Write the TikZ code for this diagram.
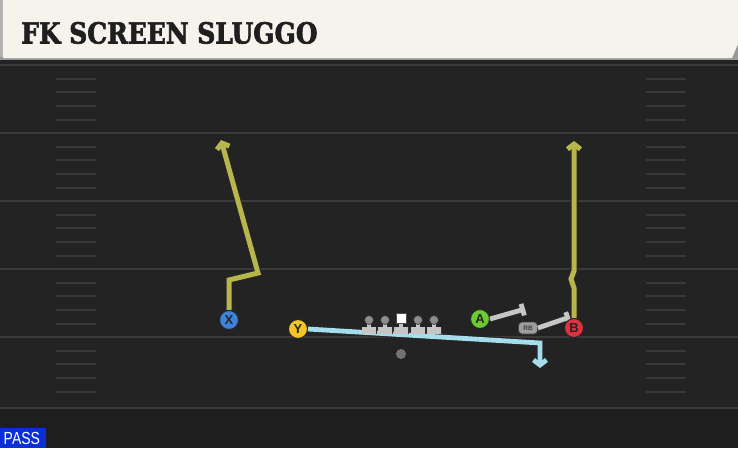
\documentclass[tikz,border=0pt]{standalone}
\usepackage{fontspec}
\usetikzlibrary{arrows.meta}
\newfontfamily\titlefont[FakeStretch=0.86,FakeBold=2.2]{DejaVu Serif}
\newfontfamily\labelfont{Liberation Sans}
\newfontfamily\passfont[FakeStretch=0.8]{Liberation Sans}
\definecolor{cream}{HTML}{F5F3EC}
\definecolor{fieldbg}{HTML}{232323}
\definecolor{fieldlow}{HTML}{1E1E1E}
\definecolor{yardline}{HTML}{3A3A3A}
\definecolor{hashc}{HTML}{383838}
\definecolor{olive}{HTML}{B6B64C}
\definecolor{skyroute}{HTML}{A6DDEC}
\definecolor{blockgray}{HTML}{C6C6C6}
\definecolor{pX}{HTML}{3E82DC}
\definecolor{pY}{HTML}{F3C623}
\definecolor{pA}{HTML}{6CCB30}
\definecolor{pB}{HTML}{E0323E}
\definecolor{passblue}{HTML}{0B2FD6}
\begin{document}
\begin{tikzpicture}[x=1pt,y=-1pt,
  player/.style={circle,draw=black!85,line width=1pt,inner sep=0pt,minimum size=19pt,
    font=\labelfont\bfseries\fontsize{13}{13}\selectfont,text=black!85},
  rbbox/.style={rounded corners=3.5pt,fill=blockgray!80!black,draw=black!75,line width=0.8pt,
    minimum width=19pt,minimum height=12pt,inner sep=0pt,
    font=\labelfont\bfseries\fontsize{6.5}{6.5}\selectfont,text=black!75},
  outline/.style={draw=black!85,line width=7.2pt},
  olroute/.style={draw=olive,line width=5pt},
  skyr/.style={draw=skyroute,line width=4.8pt},
  blk/.style={draw=blockgray,line width=4.8pt},
  yard/.style={draw=yardline,line width=2pt},
  hash/.style={draw=hashc,line width=1.5pt},
  tipup/.style={-{Straight Barb[length=5pt,width=13pt]}},
  tipbar/.style={-{Bar[width=12pt]}}
]
\useasboundingbox (0,0) rectangle (738,448);
% field
\fill[fieldbg] (0,59) rectangle (738,448);
\fill[fieldlow] (0,409) rectangle (738,448);
\foreach \yy in {65,133,201,269,337,408} \draw[yard] (0,\yy) -- (738,\yy);
\foreach \k in {0,...,4}{
  \foreach \o in {14,27,41,55}{
    \draw[hash] (56,{65+68*\k+\o}) -- (96,{65+68*\k+\o});
    \draw[hash] (646,{65+68*\k+\o}) -- (686,{65+68*\k+\o});
  }
}
% header
\fill[black!40] (0,0) rectangle (738,60);
\fill[black!30] (0,0) rectangle (3,57);
\fill[cream] (3,0) -- (738,0) -- (738,44) -- (732,58) -- (3,58) -- cycle;
\node[anchor=base west,inner sep=0pt,text=black!88,font=\titlefont\bfseries\fontsize{29}{30}\selectfont] (title) at (21,43.5) {FK SCREEN SLUGGO};
% players
\node[player,fill=pX] (X) at (229,320) {X};
\node[player,fill=pY] (Y) at (298,329) {Y};
\node[player,fill=pA] (A) at (480,319) {A};
\node[player,fill=pB] (B) at (574,328) {B};
\node[rbbox] (RB) at (528,328) {RB};
\node[circle,fill=black!55,inner sep=0pt,minimum size=10pt] (QB) at (401,354) {};
% route coordinates
\coordinate (x1) at (229,280);
\coordinate (x2) at (258,273);
\coordinate (x3) at (221,140);
\coordinate (b1) at (574,288);
\coordinate (b2) at (571,279);
\coordinate (b3) at (574,271);
\coordinate (b4) at (574,141);
\coordinate (y1) at (540,343);
\coordinate (y2) at (540,368);
\coordinate (a1) at (525,309);
\coordinate (r1) at (570,317);
% Y route (light blue)
\draw[outline,tipup,line join=miter] (Y.east) -- (y1) -- (y2);
\draw[skyr,tipup,line join=miter] (Y.east) -- (y1) -- (y2);
% linemen
\foreach \lx/\nm in {369/lt,385/lg,418/rg,434/rt}{
  \fill[black!80] (\lx-7.5,326.5) rectangle (\lx+7.5,334);
  \fill[blockgray] (\lx-7,327) rectangle (\lx+7,333.5);
  \fill[blockgray] (\lx-2,320) rectangle (\lx+2,329);
  \node[circle,fill=black!45,draw=black!80,line width=0.6pt,inner sep=0pt,minimum size=9pt] (\nm) at (\lx,320) {};
}
\fill[black!80] (401-7.5,326.5) rectangle (401+7.5,334);
\fill[blockgray] (401-7,327) rectangle (401+7,333.5);
\fill[blockgray] (399,320) rectangle (403,329);
\node[rectangle,fill=white,draw=black!70,line width=0.6pt,inner sep=0pt,minimum size=10pt] (C) at (401,318) {};
% X route
\draw[outline,tipup,line join=miter] (X.north) -- (x1) -- (x2) -- (x3);
\draw[olroute,tipup,line join=miter] (X.north) -- (x1) -- (x2) -- (x3);
% blocks
\draw[outline,tipbar] (A.east) -- (a1);
\draw[blk,tipbar] (A.east) -- (a1);
\draw[outline,tipbar] (RB.east) -- (r1);
\draw[blk,tipbar] (RB.east) -- (r1);
% B route
\draw[outline,tipup,line join=miter] (B.north) -- (b1) -- (b2) -- (b3) -- (b4);
\draw[olroute,tipup,line join=miter] (B.north) -- (b1) -- (b2) -- (b3) -- (b4);
\node[player,fill=pB] at (B) {B};
\node[player,fill=pX] at (X) {X};
% pass tag
\fill[passblue] (0,428) rectangle (46,448);
\node[anchor=base west,inner sep=0pt,text=white,font=\passfont\fontsize{17.5}{17.5}\selectfont] (pass) at (3.5,444) {PASS};
\end{tikzpicture}
\end{document}
